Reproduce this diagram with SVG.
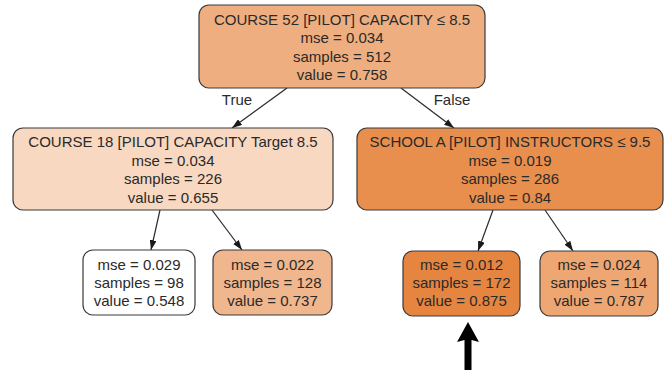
<svg xmlns="http://www.w3.org/2000/svg" width="665" height="370" viewBox="0 0 665 370">
<defs>
<style>
.box{stroke:#3a3a3a;stroke-width:1.2}
text{font-family:"Liberation Sans",Arial,sans-serif;font-size:15px;fill:#2a2a2a;text-anchor:middle}
.edge{stroke:#2a2a2a;stroke-width:1.2;fill:none;marker-end:url(#ah)}
</style>
<marker id="ah" viewBox="0 0 10 7" refX="10" refY="3.5" markerWidth="10" markerHeight="7" markerUnits="userSpaceOnUse" orient="auto">
<path d="M0,0 L10,3.5 L0,7 z" fill="#1a1a1a"/>
</marker>
</defs>
<rect width="665" height="370" fill="#ffffff"/>
<g id="connectors">
<line class="edge" x1="287" y1="88" x2="232" y2="128"/>
<line class="edge" x1="401" y1="88" x2="454" y2="128"/>
<line class="edge" x1="160" y1="210" x2="151" y2="250"/>
<line class="edge" x1="212" y1="210" x2="242" y2="250"/>
<line class="edge" x1="493" y1="210" x2="478" y2="251"/>
<line class="edge" x1="545" y1="210" x2="573" y2="251"/>
<text x="237" y="105">True</text>
<text x="452" y="105">False</text>
</g>
<g id="root">
<rect class="box" x="199" y="5" width="286" height="83" rx="10" fill="#eeae80"/>
<text x="342" y="24.5">COURSE 52 [PILOT] CAPACITY ≤ 8.5</text>
<text x="342" y="43">mse = 0.034</text>
<text x="342" y="61.5">samples = 512</text>
<text x="342" y="80">value = 0.758</text>
</g>
<g id="left">
<rect class="box" x="13" y="128" width="320" height="82" rx="10" fill="#f8d8c1"/>
<text x="173" y="147">COURSE 18 [PILOT] CAPACITY Target 8.5</text>
<text x="173" y="165.5">mse = 0.034</text>
<text x="173" y="184">samples = 226</text>
<text x="173" y="202.5">value = 0.655</text>
</g>
<g id="right">
<rect class="box" x="357" y="128" width="306" height="82" rx="10" fill="#e88f4e"/>
<text x="510" y="147">SCHOOL A [PILOT] INSTRUCTORS ≤ 9.5</text>
<text x="510" y="165.5">mse = 0.019</text>
<text x="510" y="184">samples = 286</text>
<text x="510" y="202.5">value = 0.84</text>
</g>
<g id="leaf1">
<rect class="box" x="83" y="250" width="112" height="65" rx="10" fill="#ffffff"/>
<text x="139" y="270">mse = 0.029</text>
<text x="139" y="288">samples = 98</text>
<text x="139" y="306">value = 0.548</text>
</g>
<g id="leaf2">
<rect class="box" x="213" y="250" width="119" height="65" rx="10" fill="#f0b68d"/>
<text x="272.5" y="270">mse = 0.022</text>
<text x="272.5" y="288">samples = 128</text>
<text x="272.5" y="306">value = 0.737</text>
</g>
<g id="leaf3">
<rect class="box" x="403" y="251" width="117" height="65" rx="10" fill="#e68540"/>
<text x="461.5" y="270">mse = 0.012</text>
<text x="461.5" y="288">samples = 172</text>
<text x="461.5" y="306">value = 0.875</text>
</g>
<g id="leaf4">
<rect class="box" x="540" y="251" width="118" height="65" rx="10" fill="#eea772"/>
<text x="599" y="270">mse = 0.024</text>
<text x="599" y="288">samples = 114</text>
<text x="599" y="306">value = 0.787</text>
</g>
<g id="pointer">
<polygon points="468,322 479,342 471.5,340 471.5,370 464.5,370 464.5,340 457,342" fill="#000000"/>
</g>
</svg>
